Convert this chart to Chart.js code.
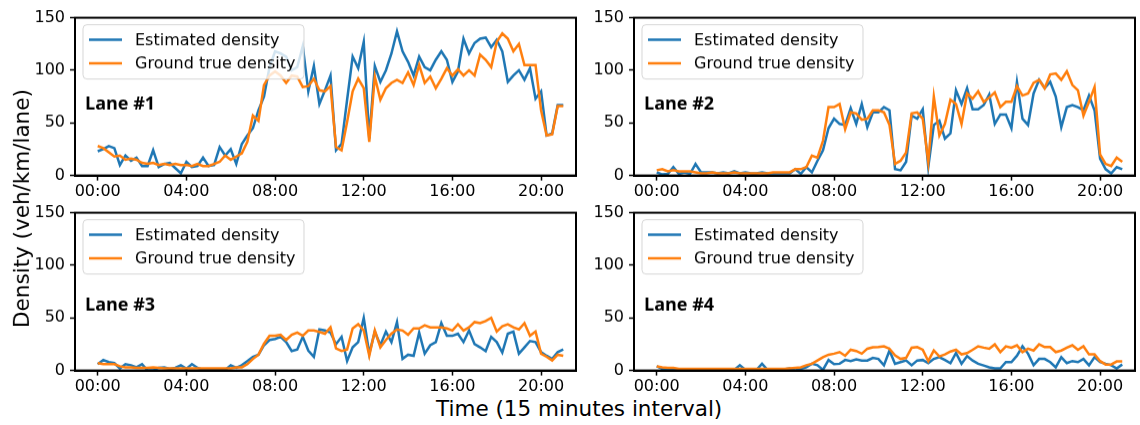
<!DOCTYPE html>
<html lang="en">
<head>
    <meta charset="UTF-8">
    <title>Lane density</title>
    <script src="https://cdnjs.cloudflare.com/ajax/libs/Chart.js/4.4.1/chart.umd.min.js"></script>
    <style>
        body { margin: 0; background: #fff; width: 1140px; height: 425px; overflow: hidden; position: relative; font-family: "DejaVu Sans", sans-serif; }
        .panel { position: absolute; width: 550px; height: 195px; }
        .axis-title { position: absolute; font-size: 21.5px; color: #000; white-space: nowrap; }
    </style>
</head>
<body>
    <div class="panel" id="p1"><canvas id="c1"></canvas></div>
    <div class="panel" id="p2"><canvas id="c2"></canvas></div>
    <div class="panel" id="p3"><canvas id="c3"></canvas></div>
    <div class="panel" id="p4"><canvas id="c4"></canvas></div>
    <div class="axis-title" id="xtitle">Time (15 minutes interval)</div>
    <div class="axis-title" id="ytitle">Density (veh/km/lane)</div>

    <script type="text/javascript">
        // 15 minute steps, 00:00 .. 21:00
        var tickPositions = [0, 16, 32, 48, 64, 80];
        var tickLabels = ["00:00", "04:00", "08:00", "12:00", "16:00", "20:00"];
        var yTicks = [0, 50, 100, 150];
        var seriesNames = ["Estimated density", "Ground true density"];

        var lane1Est = [23,25,28,26,10,19,14,17,9,9, 24,8,11,12,7,2,13,8,9,17, 9,10,27,19,25,11,30,38,45,62,
            75,103,118,116,113,100,103,123,80,104, 68,81,95,24,30,72,113,102,127,35, 104,89,100,116,137,118,108,95,113,103,
            100,110,118,110,89,99,130,116,126,130, 131,122,129,118,89,95,100,91,102,73, 80,38,40,67,67];
        var lane1True = [28,26,22,18,19,15,16,15,12,11, 12,10,11,10,11,10,10,9,11,9, 9,11,13,19,15,18,21,32,57,52,
            86,95,99,95,88,95,94,84,85,92, 81,80,85,27,24,51,80,92,83,32, 94,72,83,88,91,88,98,86,105,88,
            94,83,92,102,95,101,95,100,95,115, 110,103,127,135,130,118,125,105,105,105, 62,38,39,66,66];

        var lane2Est = [3,1,1.5,8,1.5,3,1.5,11,3,3, 3,2,3,2,4,2,3,2,2,3, 2,2,2,2,2,6,1.5,8,3,14,
            24,45,54,49,48,64,49,68,46,60, 60,65,62,6,5,13,57,54,63,8, 48,52,35,40,81,68,83,63,63,67,
            77,49,58,58,45,89,54,48,78,91, 83,89,75,46,65,67,65,62,76,62, 16,6,2,8,6];
        var lane2True = [5,6,4,5,4,4,4,3,2,2, 3,2,2,2,3,2,2,2,2,2, 2,3,3,3,3,6,6,8,19,17,
            33,65,65,68,44,60,59,53,54,62, 62,60,48,11,14,22,59,60,54,13, 75,38,49,72,68,49,78,73,80,70,
            74,79,65,70,70,85,76,78,88,91, 83,96,97,91,99,86,81,57,70,84, 20,11,9,17,13];

        var lane3Est = [6,10,8,7,2,6,5,3,6,0, 0,2.5,3,1.6,2.5,5,1.6,6,2.5,0.6, 0.5,0.5,0.5,0.5,5,2.5,5,9,13,15,
            24,29,30,32,27,18.5,20,32,19,13, 39,38,36,25,32,9,22,27,50,16, 37,24,37,27,46,11,15,14,36,16,
            24,27,45,33,33,35,27,38,25,22, 18.5,32,27,17,35,37,16,22,28,27, 17.5,14,11,17.5,20];
        var lane3True = [7,6,6,6,4,3,3,2.5,2.5,2.5, 3,2.5,2,2,2,2,2,2,2,2, 2,2,2,2,2,3,3,6,11,15,
            25.5,33,33,34,29,34,36,33,38,38, 36.6,35,41,21,18.5,20,40,44,38,14, 38,22,29,35,39,38,34,40,40,43,
            41,41,41,40,38,44,38,41,46,45, 47,50,37,42,44,41,39,45,33,37, 16,13,9.5,15,14];

        var lane4Est = [4,1.6,1,0.5,0.5,1,0.5,0.5,1,0.5, 0.5,0.5,0.5,0.5,0.5,5,0.6,0.5,0.5,6.4, 0.5,0.5,0.5,1,2,0,1.6,3,6.4,5,
            0.6,10,6,6.4,10,9,10.5,9.5,9.5,12, 11,5,19,6.4,8,9.5,5,9.5,10,7, 11,12.7,10,7,16.6,6.4,13.7,9.5,6.4,4.8,
            3,2,2,8,8,14,23,16,5,11, 11,8,3,12.7,7,9,8,11,5,12.7, 8,6.4,5,2,5.7];
        var lane4True = [4,3,2.5,2.5,1.6,1.5,1.5,1.5,1.5,1.5, 1.5,1.5,1.5,1.5,1.5,1.5,1.5,1.5,1.5,1.5, 1.5,1.5,1.5,1.5,2,2.5,3,5,6.4,9.5,
            12.7,15,16,17.5,14,19.7,18.5,16,20.7,22, 22.3,23,20.7,14.3,11,12,21.7,22.3,19.7,9, 19,13.4,15.3,18,19.7,15.3,16.6,19.7,23,21.7,
            20.7,24.8,17.5,23,21.7,24,17.5,20.7,19,24.8, 22.3,22.3,17.5,19,21.7,24,19.7,23,15.3,15.3, 9,5.7,5.7,8.6,8.6];

        var blue = "#1f77b4";
        var orange = "#ff7f0e";

        // where each axes box should land on the page (157px tall, 501px wide)
        var boxW = 501, boxH = 157;
        var panels = [
            { id: "1", name: "Lane #1", est: lane1Est, truth: lane1True, left: 75, top: 18, nameDy: 91 },
            { id: "2", name: "Lane #2", est: lane2Est, truth: lane2True, left: 634, top: 18, nameDy: 91 },
            { id: "3", name: "Lane #3", est: lane3Est, truth: lane3True, left: 75, top: 213, nameDy: 97 },
            { id: "4", name: "Lane #4", est: lane4Est, truth: lane4True, left: 634, top: 213, nameDy: 97 }
        ];

        function toPoints(values) {
            return values.map(function (v, i) { return { x: i, y: v }; });
        }

        // frame, legend box and lane name, drawn matplotlib style
        var decorPlugin = {
            id: "decor",
            afterDatasetsDraw: function (chart) {
                var ctx = chart.ctx;
                var a = chart.chartArea;
                var opts = chart.options.plugins.decor;
                ctx.save();

                // legend
                var bx = a.left + 8, by = a.top + 7, bw = 221, bh = 54;
                ctx.beginPath();
                ctx.roundRect(bx, by, bw, bh, 4);
                ctx.fillStyle = "rgba(255,255,255,0.8)";
                ctx.fill();
                ctx.strokeStyle = "rgba(204,204,204,0.8)";
                ctx.lineWidth = 1;
                ctx.stroke();
                var colors = [blue, orange];
                ctx.font = "16px 'DejaVu Sans'";
                ctx.textBaseline = "middle";
                ctx.fillStyle = "#000";
                for (var k = 0; k < 2; k++) {
                    var ly = by + 15 + k * 23.5;
                    ctx.beginPath();
                    ctx.moveTo(bx + 6, ly);
                    ctx.lineTo(bx + 39, ly);
                    ctx.strokeStyle = colors[k];
                    ctx.lineWidth = 2.5;
                    ctx.stroke();
                    ctx.fillText(seriesNames[k], bx + 52, ly + 1);
                }

                // lane name
                ctx.font = "bold 18px 'Open Sans'";
                ctx.textBaseline = "alphabetic";
                ctx.fillText(opts.name, a.left + 10, a.top + opts.nameDy);

                // box
                ctx.strokeStyle = "#000";
                ctx.lineWidth = 2;
                ctx.strokeRect(a.left, a.top, a.right - a.left, a.bottom - a.top);
                ctx.restore();
            }
        };

        panels.forEach(function (p) {
            var ctx = document.getElementById("c" + p.id).getContext("2d");
            var chart = new Chart(ctx, {
                type: "line",
                data: {
                    datasets: [{
                        label: seriesNames[0],
                        data: toPoints(p.est),
                        borderColor: blue,
                        borderWidth: 2.5,
                        pointRadius: 0,
                        order: 1
                    }, {
                        label: seriesNames[1],
                        data: toPoints(p.truth),
                        borderColor: orange,
                        borderWidth: 2.5,
                        pointRadius: 0,
                        order: 0
                    }]
                },
                options: {
                    responsive: true,
                    maintainAspectRatio: false,
                    animation: false,
                    events: [],
                    layout: { padding: { top: 12, right: 4, left: 0, bottom: 0 } },
                    plugins: {
                        legend: { display: false },
                        tooltip: { enabled: false },
                        decor: { name: p.name, nameDy: p.nameDy }
                    },
                    scales: {
                        x: {
                            type: "linear",
                            min: -4.1,
                            max: 86.3,
                            afterBuildTicks: function (scale) {
                                scale.ticks = tickPositions.map(function (v) { return { value: v }; });
                            },
                            afterFit: function (scale) { scale.height = 26; },
                            ticks: {
                                autoSkip: false,
                                maxRotation: 0,
                                padding: 2,
                                color: "#000",
                                font: { family: "DejaVu Sans", size: 16 },
                                callback: function (v) { return tickLabels[tickPositions.indexOf(v)]; }
                            },
                            grid: { drawOnChartArea: false, tickLength: 5, tickWidth: 1.5, tickColor: "#000" },
                            border: { display: true, color: "#000", width: 2 }
                        },
                        y: {
                            min: 0,
                            max: 150,
                            afterBuildTicks: function (scale) {
                                scale.ticks = yTicks.map(function (v) { return { value: v }; });
                            },
                            afterFit: function (scale) { scale.width = 45; },
                            ticks: {
                                padding: 5,
                                color: "#000",
                                font: { family: "DejaVu Sans", size: 16 }
                            },
                            grid: { drawOnChartArea: false, tickLength: 5, tickWidth: 1.5, tickColor: "#000" },
                            border: { display: true, color: "#000", width: 2 }
                        }
                    }
                },
                plugins: [decorPlugin]
            });
            // resize the panel so the axes box has the reference size, then move it into place
            var div = document.getElementById("p" + p.id);
            var ca = chart.chartArea;
            div.style.width = (div.offsetWidth + boxW - (ca.right - ca.left)) + "px";
            div.style.height = (div.offsetHeight + boxH - (ca.bottom - ca.top)) + "px";
            chart.resize();
            ca = chart.chartArea;
            div.style.left = (p.left - ca.left) + "px";
            div.style.top = (p.top - ca.top) + "px";
        });

        var xt = document.getElementById("xtitle");
        xt.style.left = (579 - xt.offsetWidth / 2) + "px";
        xt.style.top = (408 - xt.offsetHeight / 2) + "px";
        var yt = document.getElementById("ytitle");
        yt.style.left = (21 - yt.offsetWidth / 2) + "px";
        yt.style.top = (208 - yt.offsetHeight / 2) + "px";
        yt.style.transform = "rotate(-90deg)";
    </script>
</body>
</html>
